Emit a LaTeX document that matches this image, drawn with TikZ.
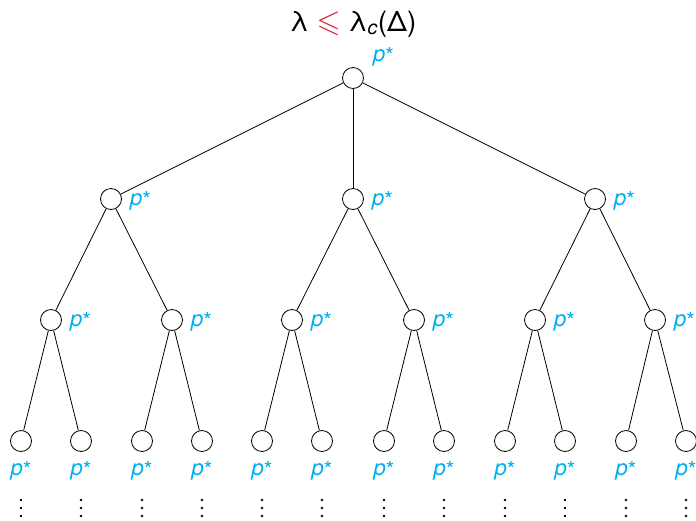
\documentclass[tikz,border=0pt]{standalone}
\usepackage{fontspec}
\usepackage{amssymb}
\setmainfont{TeX Gyre Heros}
\definecolor{pcol}{RGB}{0,174,239}
\definecolor{lered}{RGB}{215,35,45}
\newcommand{\pstar}{\textit{p}\raisebox{-2pt}{\fontsize{22}{22}\selectfont *}}
\begin{document}
\begin{tikzpicture}[x=1pt,y=-1pt,
  vtx/.style={circle,draw,minimum size=21pt,inner sep=0pt,line width=0.8pt},
  lab/.style={text=pcol,font=\fontsize{22}{22}\selectfont,inner sep=0pt},
  edge/.style={line width=0.8pt},
  dotmark/.style={fill=black,draw=none}]
\useasboundingbox (0,0) rectangle (696,520);
\node[font=\fontsize{28}{28}\selectfont,inner sep=0pt,anchor=base] (title) at (353,31) {λ \textcolor{lered}{\scalebox{1.1}{$\leqslant$}} λ\textsubscript{\itshape c}(Δ)};
% root
\node[vtx] (r) at (353,78) {};
\node[lab,anchor=base west] (lr) at (373,61) {\pstar};
% level 1
\foreach \n/\x in {a/111,b/353,c/595}{
  \node[vtx] (\n) at (\x,199) {};
  \node[lab,anchor=base west] (l\n) at (\x+19,205) {\pstar};
  \draw[edge] (r) -- (\n);
}
% level 2
\foreach \n/\x/\p in {a1/51/a,a2/172/a,b1/292/b,b2/414/b,c1/535/c,c2/655/c}{
  \node[vtx] (\n) at (\x,320) {};
  \node[lab,anchor=base west] (l\n) at (\x+19,326) {\pstar};
  \draw[edge] (\p) -- (\n);
}
% level 3
\foreach \n/\x/\p in {a11/21/a1,a12/81/a1,a21/142/a2,a22/202/a2,b11/262/b1,b12/322/b1,b21/384/b2,b22/444/b2,c11/505/c1,c12/565/c1,c21/626/c2,c22/686/c2}{
  \node[vtx] (\n) at (\x,441) {};
  \node[lab,anchor=base] (l\n) at (\x,475) {\pstar};
  \draw[edge] (\p) -- (\n);
  \fill[dotmark] (\x,500) circle (1.3) (\x,508) circle (1.3) (\x,516) circle (1.3);
}
\end{tikzpicture}
\end{document}
